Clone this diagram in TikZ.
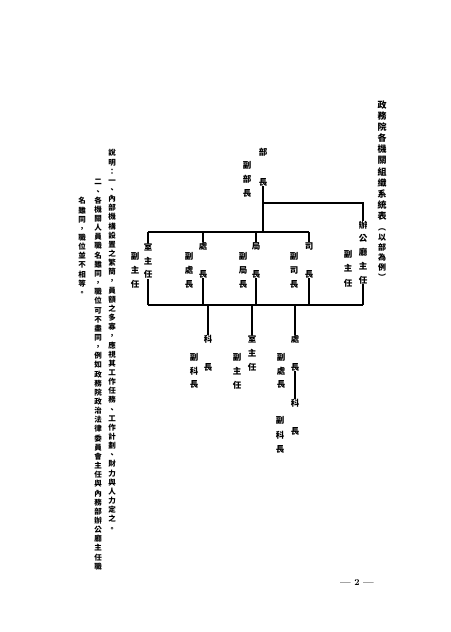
\documentclass[tikz,border=0pt]{standalone}
\usepackage{fontspec}
\newfontfamily\cjk{Noto Sans CJK TC}
\makeatletter
\def\vt@end{\vt@end}
\def\vt@loop#1{\ifx#1\vt@end\else\hbox to 1em{\vrule height .88em depth .12em width 0pt\hss#1\hss}\expandafter\vt@loop\fi}
\newcommand\vtext[2]{\vbox{\baselineskip=#1\lineskiplimit=-100pt\lineskip=0pt\relax\vt@loop#2\vt@end}}
\makeatother
\tikzset{
  lbl/.style={inner sep=0pt, font=\cjk\bfseries\fontsize{8.5}{10}\selectfont},
  ttl/.style={inner sep=0pt, font=\cjk\bfseries\fontsize{9}{10}\selectfont},
  ttlsub/.style={inner sep=0pt, font=\cjk\bfseries\fontsize{8}{10}\selectfont},
  note/.style={inner sep=0pt, font=\cjk\bfseries\fontsize{7.5}{9}\selectfont},
  pgnum/.style={inner sep=0pt, font=\bfseries\fontsize{9}{10}\selectfont},
  ln/.style={line width=1.2pt, black}
}
\begin{document}
\begin{tikzpicture}[x=1pt,y=-1pt]
\useasboundingbox (0,0) rectangle (450,632);
\fill[white] (0,0) rectangle (450,632);

% title
\node[ttl] (title) at (382,160.5) {\vtext{11.1pt}{政務院各機關組織系統表}};
\node[ttlsub] (titlesub) at (382,252) {\vtext{10pt}{︵以部為例︶}};

% ministry level
\node[lbl] (buzhang) at (263,167) {\vtext{15pt}{部　長}};
\node[lbl] (fubuzhang) at (247,179) {\vtext{14pt}{副部長}};
\node[lbl] (bangong) at (363,252.5) {\vtext{13.75pt}{辦公廳主任}};
\node[lbl] (fubangong) at (348,268.5) {\vtext{14.5pt}{副主任}};

% first level
\node[lbl] (shi1) at (148,261) {\vtext{13.5pt}{室主任}};
\node[lbl] (fushi1) at (135,270) {\vtext{14pt}{副主任}};
\node[lbl] (chu1) at (203,260) {\vtext{14pt}{處　長}};
\node[lbl] (fuchu1) at (189,270) {\vtext{14pt}{副處長}};
\node[lbl] (ju) at (256,260) {\vtext{14pt}{局　長}};
\node[lbl] (fuju) at (243,270) {\vtext{14pt}{副局長}};
\node[lbl] (si) at (309,260) {\vtext{14pt}{司　長}};
\node[lbl] (fusi) at (294,270) {\vtext{14pt}{副司長}};

% second level
\node[lbl] (ke1) at (208,353) {\vtext{14pt}{科　長}};
\node[lbl] (fuke1) at (194,371) {\vtext{13.5pt}{副科長}};
\node[lbl] (shi2) at (252,353) {\vtext{14pt}{室主任}};
\node[lbl] (fushi2) at (237,371.5) {\vtext{14pt}{副主任}};
\node[lbl] (chu2) at (295,353) {\vtext{14pt}{處　長}};
\node[lbl] (fuchu2) at (281,371) {\vtext{13.5pt}{副處長}};
\node[lbl] (ke2) at (295,417) {\vtext{14pt}{科　長}};
\node[lbl] (fuke2) at (280,435) {\vtext{14.5pt}{副科長}};

% bus coordinates
\coordinate (jy) at (0,203);
\coordinate (tb) at (0,232);
\coordinate (bb) at (0,305);

% connectors
\draw[ln] (buzhang.south) -- (buzhang.south |- tb);
\draw[ln] (buzhang.south |- jy) -| (bangong.north);
\draw[ln] (shi1.north |- tb) -- (si.north |- tb);
\draw[ln] (shi1.north |- tb) -- (shi1.north);
\draw[ln] (chu1.north |- tb) -- (chu1.north);
\draw[ln] (ju.north |- tb) -- (ju.north);
\draw[ln] (si.north |- tb) -- (si.north);

\draw[ln] (shi1.south) -- (shi1.south |- bb);
\draw[ln] (chu1.south) -- (chu1.south |- bb);
\draw[ln] (ju.south) -- (ju.south |- bb);
\draw[ln] (si.south) -- (si.south |- bb);
\draw[ln] (bangong.south) -- (bangong.south |- bb);
\draw[ln] (shi1.south |- bb) -- (bangong.south |- bb);

\draw[ln] (ke1.north |- bb) -- (ke1.north);
\draw[ln] (shi2.north |- bb) -- (shi2.north);
\draw[ln] (chu2.north |- bb) -- (chu2.north);
\draw[ln] (chu2.south) -- (ke2.north);

% notes
\node[note] (note1) at (112,340.6) {\vtext{9.15pt}{說明：一、內部機構設置之繁簡，員額之多寡，應視其工作任務、工作計劃、財力與人力定之。}};
\node[note] (note2) at (98,374.2) {\vtext{9.15pt}{二、各機關人員職名雖同，職位可不盡同，例如政務院政治法律委員會主任與內務部辦公廳主任職}};
\node[note] (note3) at (82,246.75) {\vtext{9.15pt}{名雖同，職位並不相等。}};

% page number
\node[pgnum] (pg) at (357,583) {— 2 —};
\end{tikzpicture}
\end{document}
